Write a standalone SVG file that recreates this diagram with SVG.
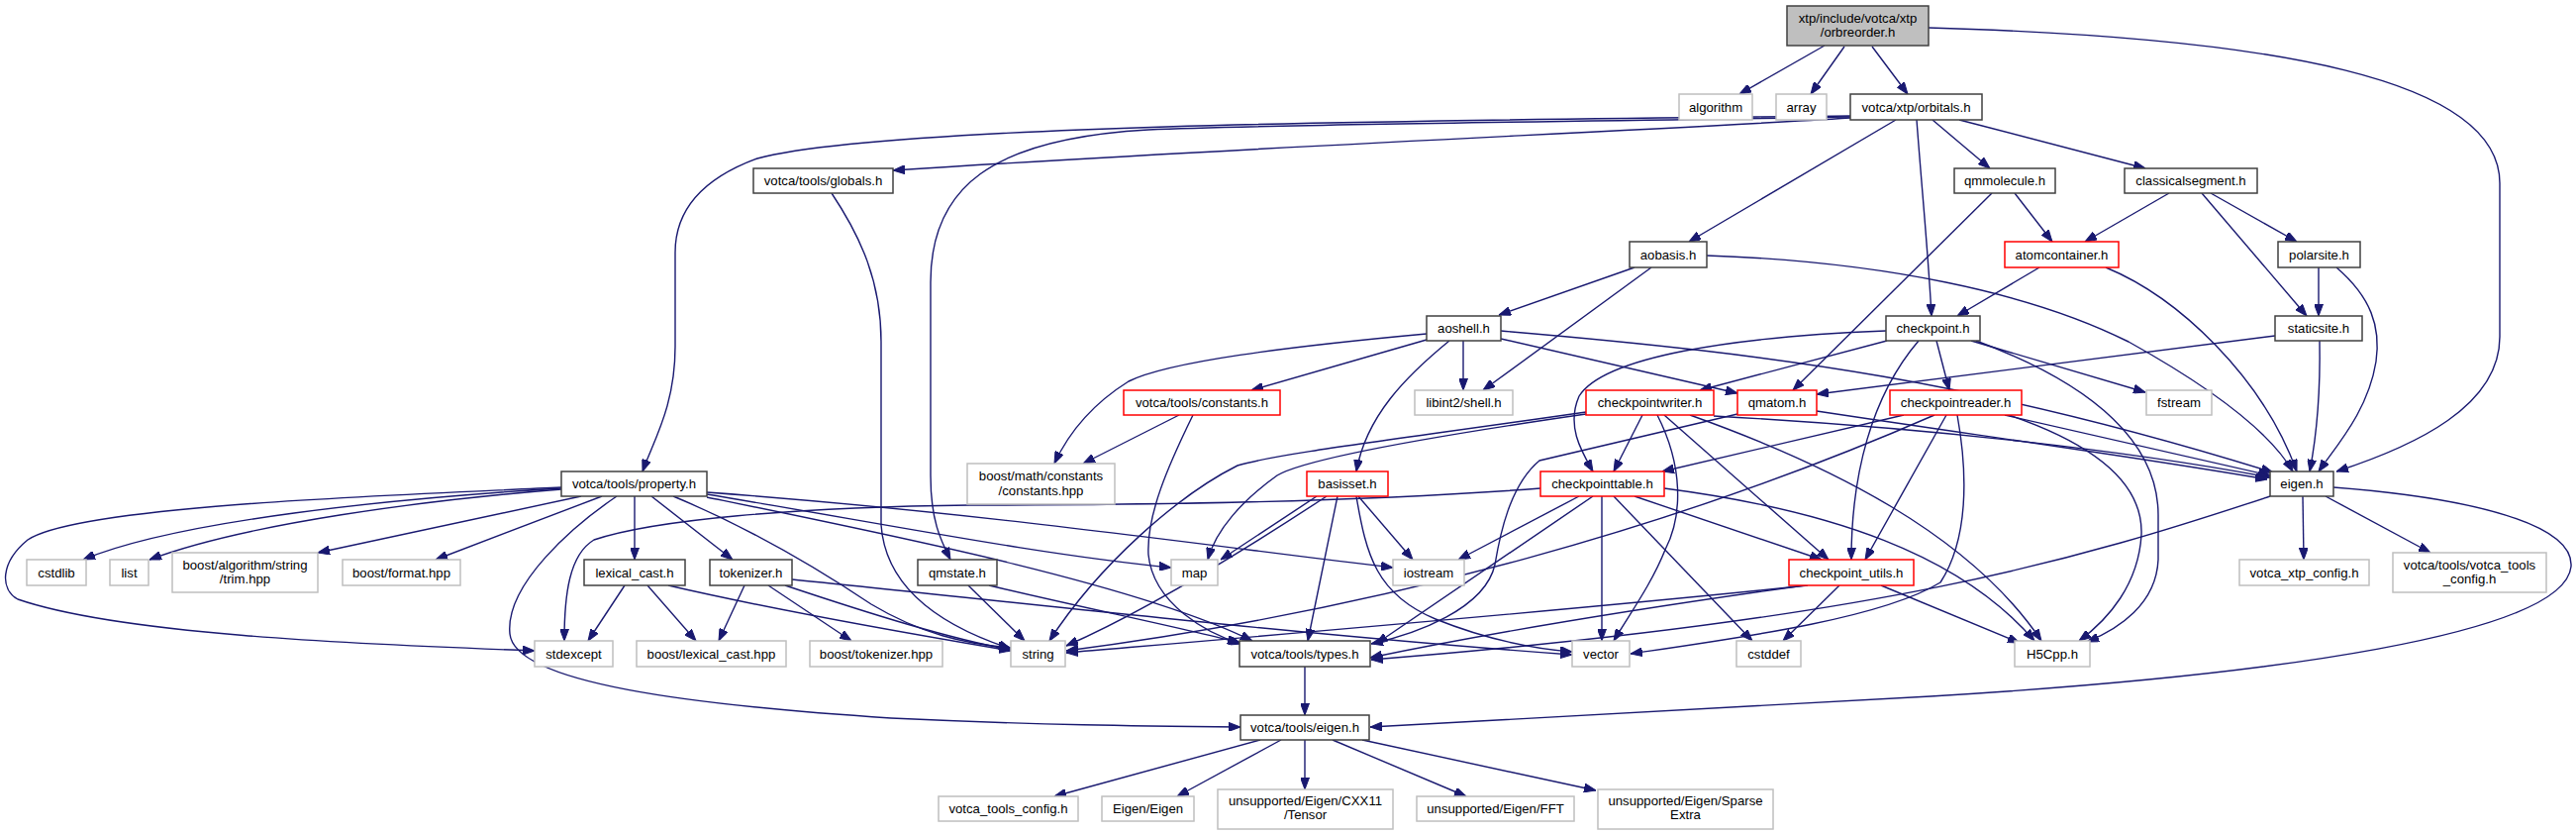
<svg xmlns="http://www.w3.org/2000/svg" width="2602" height="843" viewBox="0 0 2602 843">
<defs>
<marker id="a" viewBox="0 0 12 9" markerWidth="12" markerHeight="9" refX="12" refY="4.5" orient="auto" markerUnits="userSpaceOnUse"><path d="M0,0 L12,4.5 L0,9 z" fill="#191970" stroke="#191970" stroke-width="1"/></marker>
<style>
.e{fill:none;stroke:#191970;stroke-width:1.4;marker-end:url(#a)}
.nb rect{fill:#fff;stroke:#404040;stroke-width:1.5}
.ng rect{fill:#fff;stroke:#bfbfbf;stroke-width:1.5}
.nr rect{fill:#fff;stroke:#ff0000;stroke-width:1.5}
.nm rect{fill:#bfbfbf;stroke:#404040;stroke-width:1.5}
text{font-family:"Liberation Sans",Arial,Helvetica,sans-serif;font-size:13.2px;fill:#000;text-anchor:middle}
</style>
</defs>
<rect width="2602" height="843" fill="#fff"/>
<g id="edges">
<path class="e" d="M1843,46 L1757,95"/>
<path class="e" d="M1863,47 L1829,95"/>
<path class="e" d="M1891,47 L1927,95"/>
<path class="e" d="M1948,28 C2300,38 2525,80 2525,185 L2525,340 C2525,410 2440,450 2360,476"/>
<path class="e" d="M1869,119 C1650,133 1300,146 902,172"/>
<path class="e" d="M1869,117 C1500,121 900,124 765,160 C705,182 682,215 682,255 L682,350 C682,410 660,445 649,476"/>
<path class="e" d="M1869,118 C1600,123 1300,125 1160,131 C1000,140 940,190 940,285 L940,480 C940,525 950,545 960,565"/>
<path class="e" d="M1915,121 L1706,244"/>
<path class="e" d="M1936,121 C1942,200 1948,260 1951,319"/>
<path class="e" d="M1952,121 L2010,170"/>
<path class="e" d="M1979,121 L2167,170"/>
<path class="e" d="M840,195 C870,240 890,285 890,345 L890,530 C895,600 960,635 1021,655"/>
<path class="e" d="M2035,195 L2073,244"/>
<path class="e" d="M2012,195 L1811,394"/>
<path class="e" d="M2191,195 L2106,244"/>
<path class="e" d="M2233,195 L2320,244"/>
<path class="e" d="M2224,195 L2330,319"/>
<path class="e" d="M2342,270 L2342,319"/>
<path class="e" d="M2360,270 C2395,300 2405,330 2400,365 C2392,415 2360,450 2342,476"/>
<path class="e" d="M2060,270 L1977,319"/>
<path class="e" d="M2127,270 C2200,300 2285,380 2320,476"/>
<path class="e" d="M2298,339 L1835,398"/>
<path class="e" d="M2343,344 C2344,400 2340,440 2333,476"/>
<path class="e" d="M1651,270 L1514,318"/>
<path class="e" d="M1668,270 L1498,394"/>
<path class="e" d="M1724,258 C1900,264 2050,295 2150,345 C2240,395 2295,440 2316,476"/>
<path class="e" d="M1478,344 L1478,394"/>
<path class="e" d="M1516,342 L1755,397"/>
<path class="e" d="M1516,334 C1800,358 2000,385 2296,477"/>
<path class="e" d="M1464,344 C1420,380 1380,420 1370,476"/>
<path class="e" d="M1441,343 L1264,394"/>
<path class="e" d="M1441,337 C1300,350 1180,365 1140,385 C1100,410 1078,440 1065,468"/>
<path class="e" d="M1191,419 L1094,468"/>
<path class="e" d="M1205,419 C1180,470 1158,520 1160,560 C1165,610 1220,640 1254,650"/>
<path class="e" d="M1906,344 L1717,394"/>
<path class="e" d="M1905,334 C1750,340 1620,360 1595,400 C1582,430 1597,455 1609,476"/>
<path class="e" d="M1956,344 L1969,394"/>
<path class="e" d="M1938,344 C1890,400 1870,480 1870,565"/>
<path class="e" d="M1991,344 L2167,396"/>
<path class="e" d="M1996,344 C2120,390 2180,450 2180,520 L2180,565 C2178,610 2140,635 2108,648"/>
<path class="e" d="M1923,419 L1679,476"/>
<path class="e" d="M2025,419 L2293,480"/>
<path class="e" d="M2029,419 C2120,450 2165,490 2163,540 C2160,590 2130,625 2100,647"/>
<path class="e" d="M1966,419 L1884,565"/>
<path class="e" d="M1977,419 C1988,480 1988,545 1960,588 C1900,625 1750,645 1647,660"/>
<path class="e" d="M1954,419 C1700,530 1400,615 1077,657"/>
<path class="e" d="M1609,501 L1390,650"/>
<path class="e" d="M1659,419 L1630,476"/>
<path class="e" d="M1674,419 C1700,470 1700,520 1682,555 C1668,590 1646,620 1630,647"/>
<path class="e" d="M1681,419 L1847,565"/>
<path class="e" d="M1707,419 C1850,470 1990,540 2062,647"/>
<path class="e" d="M1731,420 C1950,432 2150,455 2293,482"/>
<path class="e" d="M1602,416 C1400,445 1290,458 1250,470 C1190,500 1110,570 1060,647"/>
<path class="e" d="M1602,418 C1450,440 1320,462 1290,480 C1255,505 1228,535 1220,565"/>
<path class="e" d="M1330,501 L1233,565"/>
<path class="e" d="M1340,501 C1250,560 1150,620 1077,652"/>
<path class="e" d="M1351,501 L1321,647"/>
<path class="e" d="M1370,501 C1380,560 1390,600 1450,625 C1500,645 1550,655 1588,658"/>
<path class="e" d="M1372,501 L1427,565"/>
<path class="e" d="M1835,415 C2000,440 2150,460 2290,484"/>
<path class="e" d="M1755,418 L1555,465 C1525,490 1515,540 1510,570 C1500,615 1430,640 1385,650"/>
<path class="e" d="M1595,501 L1473,565"/>
<path class="e" d="M1618,501 L1618,647"/>
<path class="e" d="M1630,501 L1770,647"/>
<path class="e" d="M1651,501 L1840,565"/>
<path class="e" d="M1681,493 C1850,515 1980,560 2055,647"/>
<path class="e" d="M1556,493 C1400,505 1200,510 980,510 C800,512 660,525 600,545 C575,560 570,600 570,647"/>
<path class="e" d="M1826,591 C1600,615 1300,640 1077,659"/>
<path class="e" d="M1823,591 C1650,615 1500,640 1384,664"/>
<path class="e" d="M1858,591 L1801,647"/>
<path class="e" d="M1900,591 L2040,649"/>
<path class="e" d="M2357,492 C2500,503 2600,530 2597,572 C2590,640 2300,682 1950,703 C1700,718 1500,729 1384,734"/>
<path class="e" d="M2326,501 L2327,565"/>
<path class="e" d="M2349,501 L2455,558"/>
<path class="e" d="M2293,501 C2100,565 1900,625 1385,666"/>
<path class="e" d="M567,493 C400,503 180,525 84,565"/>
<path class="e" d="M567,494 C430,505 250,528 151,565"/>
<path class="e" d="M567,492 C400,500 80,510 28,545 C0,568 0,595 18,605 C120,640 350,650 540,657"/>
<path class="e" d="M587,501 L321,558"/>
<path class="e" d="M608,501 L440,565"/>
<path class="e" d="M641,501 L641,565"/>
<path class="e" d="M623,501 C580,530 510,590 515,640 C520,690 700,712 900,725 C1050,732 1150,733 1253,734"/>
<path class="e" d="M658,501 L740,565"/>
<path class="e" d="M680,501 C750,530 820,570 880,610 C930,640 975,650 1021,654"/>
<path class="e" d="M714,499 C900,530 1050,560 1183,573"/>
<path class="e" d="M714,497 C1000,518 1250,555 1407,573"/>
<path class="e" d="M714,502 C900,540 1150,590 1265,647"/>
<path class="e" d="M631,591 L594,647"/>
<path class="e" d="M654,591 L703,647"/>
<path class="e" d="M675,591 C800,620 950,645 1021,657"/>
<path class="e" d="M752,591 L726,647"/>
<path class="e" d="M776,591 L860,647"/>
<path class="e" d="M793,591 C880,620 960,645 1021,656"/>
<path class="e" d="M800,585 C1000,605 1300,640 1588,661"/>
<path class="e" d="M978,591 L1035,647"/>
<path class="e" d="M999,591 C1100,615 1200,635 1252,649"/>
<path class="e" d="M1318,673 L1318,722"/>
<path class="e" d="M1273,747 L1065,804"/>
<path class="e" d="M1294,747 L1189,804"/>
<path class="e" d="M1318,747 L1318,797"/>
<path class="e" d="M1346,747 L1481,804"/>
<path class="e" d="M1376,747 L1612,798"/>
</g>
<g id="n_main" class="nm"><rect x="1805" y="6" width="143" height="40"/><text x="1876.5" y="22.5">xtp/include/votca/xtp</text><text x="1876.5" y="37">/orbreorder.h</text></g>
<g id="n_algorithm" class="ng"><rect x="1696" y="95" width="74" height="26"/><text x="1733" y="112.5">algorithm</text></g>
<g id="n_array" class="ng"><rect x="1794" y="95" width="51" height="26"/><text x="1819.5" y="112.5">array</text></g>
<g id="n_orbitals" class="nb"><rect x="1869" y="95" width="133" height="26"/><text x="1935.5" y="112.5">votca/xtp/orbitals.h</text></g>
<g id="n_globals" class="nb"><rect x="761" y="170" width="141" height="25"/><text x="831.5" y="187">votca/tools/globals.h</text></g>
<g id="n_qmmolecule" class="nb"><rect x="1974" y="170" width="102" height="25"/><text x="2025" y="187">qmmolecule.h</text></g>
<g id="n_classicalsegment" class="nb"><rect x="2146" y="170" width="134" height="25"/><text x="2213" y="187">classicalsegment.h</text></g>
<g id="n_aobasis" class="nb"><rect x="1646" y="244" width="78" height="26"/><text x="1685" y="261.5">aobasis.h</text></g>
<g id="n_atomcontainer" class="nr"><rect x="2025" y="244" width="115" height="26"/><text x="2082.5" y="261.5">atomcontainer.h</text></g>
<g id="n_polarsite" class="nb"><rect x="2301" y="244" width="83" height="26"/><text x="2342.5" y="261.5">polarsite.h</text></g>
<g id="n_aoshell" class="nb"><rect x="1441" y="319" width="75" height="25"/><text x="1478.5" y="336">aoshell.h</text></g>
<g id="n_checkpoint" class="nb"><rect x="1905" y="319" width="95" height="25"/><text x="1952.5" y="336">checkpoint.h</text></g>
<g id="n_staticsite" class="nb"><rect x="2298" y="319" width="88" height="25"/><text x="2342" y="336">staticsite.h</text></g>
<g id="n_constants" class="nr"><rect x="1135" y="394" width="158" height="25"/><text x="1214" y="411">votca/tools/constants.h</text></g>
<g id="n_libint" class="ng"><rect x="1429" y="394" width="99" height="25"/><text x="1478.5" y="411">libint2/shell.h</text></g>
<g id="n_checkpointwriter" class="nr"><rect x="1602" y="394" width="129" height="25"/><text x="1666.5" y="411">checkpointwriter.h</text></g>
<g id="n_qmatom" class="nr"><rect x="1755" y="394" width="80" height="25"/><text x="1795" y="411">qmatom.h</text></g>
<g id="n_checkpointreader" class="nr"><rect x="1909" y="394" width="133" height="25"/><text x="1975.5" y="411">checkpointreader.h</text></g>
<g id="n_fstream" class="ng"><rect x="2168" y="394" width="66" height="25"/><text x="2201" y="411">fstream</text></g>
<g id="n_property" class="nb"><rect x="567" y="476" width="147" height="25"/><text x="640.5" y="493">votca/tools/property.h</text></g>
<g id="n_boostmath" class="ng"><rect x="977" y="468" width="149" height="41"/><text x="1051.5" y="485">boost/math/constants</text><text x="1051.5" y="499.5">/constants.hpp</text></g>
<g id="n_basisset" class="nr"><rect x="1320" y="476" width="82" height="25"/><text x="1361" y="493">basisset.h</text></g>
<g id="n_checkpointtable" class="nr"><rect x="1556" y="476" width="125" height="25"/><text x="1618.5" y="493">checkpointtable.h</text></g>
<g id="n_eigen" class="nb"><rect x="2293" y="476" width="64" height="25"/><text x="2325" y="493">eigen.h</text></g>
<g id="n_cstdlib" class="ng"><rect x="27" y="565" width="60" height="26"/><text x="57" y="582.5">cstdlib</text></g>
<g id="n_list" class="ng"><rect x="111" y="565" width="39" height="26"/><text x="130.5" y="582.5">list</text></g>
<g id="n_trim" class="ng"><rect x="174" y="558" width="147" height="40"/><text x="247.5" y="574.5">boost/algorithm/string</text><text x="247.5" y="589">/trim.hpp</text></g>
<g id="n_format" class="ng"><rect x="346" y="565" width="119" height="26"/><text x="405.5" y="582.5">boost/format.hpp</text></g>
<g id="n_lexical_cast" class="nb"><rect x="590" y="565" width="102" height="26"/><text x="641" y="582.5">lexical_cast.h</text></g>
<g id="n_tokenizer" class="nb"><rect x="717" y="565" width="83" height="26"/><text x="758.5" y="582.5">tokenizer.h</text></g>
<g id="n_qmstate" class="nb"><rect x="927" y="565" width="80" height="26"/><text x="967" y="582.5">qmstate.h</text></g>
<g id="n_map" class="ng"><rect x="1183" y="565" width="47" height="26"/><text x="1206.5" y="582.5">map</text></g>
<g id="n_iostream" class="ng"><rect x="1407" y="565" width="72" height="26"/><text x="1443" y="582.5">iostream</text></g>
<g id="n_checkpoint_utils" class="nr"><rect x="1807" y="565" width="126" height="26"/><text x="1870" y="582.5">checkpoint_utils.h</text></g>
<g id="n_votca_xtp_config" class="ng"><rect x="2262" y="565" width="131" height="26"/><text x="2327.5" y="582.5">votca_xtp_config.h</text></g>
<g id="n_votca_tools_config2" class="ng"><rect x="2417" y="558" width="155" height="40"/><text x="2494.5" y="574.5">votca/tools/votca_tools</text><text x="2494.5" y="589">_config.h</text></g>
<g id="n_stdexcept" class="ng"><rect x="540" y="647" width="79" height="26"/><text x="579.5" y="664.5">stdexcept</text></g>
<g id="n_boost_lexical" class="ng"><rect x="643" y="647" width="151" height="26"/><text x="718.5" y="664.5">boost/lexical_cast.hpp</text></g>
<g id="n_boost_tokenizer" class="ng"><rect x="818" y="647" width="134" height="26"/><text x="885" y="664.5">boost/tokenizer.hpp</text></g>
<g id="n_string" class="ng"><rect x="1021" y="647" width="55" height="26"/><text x="1048.5" y="664.5">string</text></g>
<g id="n_types" class="nb"><rect x="1252" y="647" width="132" height="26"/><text x="1318" y="664.5">votca/tools/types.h</text></g>
<g id="n_vector" class="ng"><rect x="1588" y="647" width="58" height="26"/><text x="1617" y="664.5">vector</text></g>
<g id="n_cstddef" class="ng"><rect x="1754" y="647" width="65" height="26"/><text x="1786.5" y="664.5">cstddef</text></g>
<g id="n_h5cpp" class="ng"><rect x="2035" y="647" width="76" height="26"/><text x="2073" y="664.5">H5Cpp.h</text></g>
<g id="n_vt_eigen" class="nb"><rect x="1253" y="722" width="130" height="25"/><text x="1318" y="739">votca/tools/eigen.h</text></g>
<g id="n_votca_tools_config" class="ng"><rect x="948" y="804" width="141" height="25"/><text x="1018.5" y="821">votca_tools_config.h</text></g>
<g id="n_eigen_eigen" class="ng"><rect x="1113" y="804" width="93" height="25"/><text x="1159.5" y="821">Eigen/Eigen</text></g>
<g id="n_tensor" class="ng"><rect x="1230" y="797" width="177" height="40"/><text x="1318.5" y="812.5">unsupported/Eigen/CXX11</text><text x="1318.5" y="827">/Tensor</text></g>
<g id="n_fft" class="ng"><rect x="1431" y="804" width="159" height="25"/><text x="1510.5" y="821">unsupported/Eigen/FFT</text></g>
<g id="n_sparse" class="ng"><rect x="1614" y="797" width="177" height="40"/><text x="1702.5" y="812.5">unsupported/Eigen/Sparse</text><text x="1702.5" y="827">Extra</text></g>
</svg>
